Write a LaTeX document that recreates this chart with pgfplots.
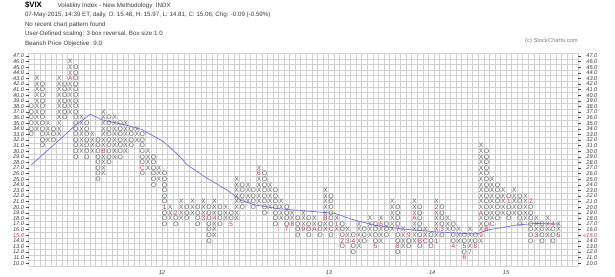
\documentclass[border=0pt]{standalone}
\usepackage{pgfplots}
\pgfplotsset{compat=1.18}
\usepackage{fontspec}
\setmainfont{Liberation Sans}
\definecolor{pfgray}{RGB}{95,95,95}
\definecolor{mred}{RGB}{215,40,90}
\definecolor{trend}{RGB}{115,110,235}
\definecolor{gridc}{RGB}{208,208,208}
\definecolor{txt}{RGB}{60,60,60}
\newcommand\pffont{\fontsize{6.5}{6.5}\selectfont}
\newcommand\lblfont{\fontsize{5.6}{5.6}\selectfont\itshape}
\pgfplotsset{mk/.style={only marks, color=mred, mark=text, text mark={#1}, text mark as node=true,
  text mark style={font=\pffont, text=mred, inner sep=0pt}}}
\begin{document}
\begin{tikzpicture}
\useasboundingbox (0pt,0pt) rectangle (615pt,-276pt);
\node[anchor=base west, inner sep=0pt, font=\fontsize{7.8}{7.8}\selectfont\bfseries] at (24.8pt,-7.6pt) {\$VIX};
\node[anchor=base west, inner sep=0pt, font=\fontsize{6.2}{6.2}\selectfont, text=txt] at (57.5pt,-7.2pt) {Volatility Index - New Methodology\ \ INDX};
\node[anchor=base west, inner sep=0pt, font=\fontsize{6.2}{6.2}\selectfont, text=txt] at (24.8pt,-16.9pt) {07-May-2015, 14:39 ET, daily, O: 15.48, H: 15.97, L: 14.81, C: 15.06, Chg: -0.09 (-0.59\%)};
\node[anchor=base west, inner sep=0pt, font=\fontsize{6.2}{6.2}\selectfont, text=txt] at (24.8pt,-26.3pt) {No recent chart pattern found};
\node[anchor=base west, inner sep=0pt, font=\fontsize{6.2}{6.2}\selectfont, text=txt] at (24.8pt,-35.8pt) {User-Defined scaling: 3 box reversal, Box size:1.0};
\node[anchor=base west, inner sep=0pt, font=\fontsize{6.2}{6.2}\selectfont, text=txt] at (24.8pt,-45.2pt) {Bearish Price Objective: 9.0};
\node[anchor=base west, inner sep=0pt, font=\fontsize{5.8}{5.8}\selectfont, text=gray] at (525pt,-42.2pt) {(c) StockCharts.com};

\begin{axis}[at={(28.7pt,-266pt)}, anchor=south west, scale only axis,
  width=549.5pt, height=212.8pt,
  xmin=-0.5, xmax=98.5, ymin=9.5, ymax=47.5,
  axis line style={draw=none},
  xtick={23.5,53.6,72.2,85.5}, xticklabels={12,13,14,15},
  xtick style={draw=none},
  xticklabel style={font=\lblfont, text=txt, inner sep=1pt},
  minor xtick={-0.5,0.5,...,98.5}, minor ytick={9.5,10.5,...,47.5},
  minor tick length=0pt,
  xminorgrids, yminorgrids,
  minor grid style={gridc, line width=0.5pt},
  ytick={10,11,...,47}, ytick pos=left, yticklabel pos=left,
  tick align=outside, major tick length=3pt,
  ytick style={draw=black!70, line width=0.6pt},
  yticklabel style={font=\lblfont, text=txt, inner sep=1.5pt},
  yticklabels={10.0,11.0,12.0,13.0,14.0,\textcolor{mred}{15.0},16.0,17.0,18.0,19.0,20.0,21.0,22.0,23.0,24.0,25.0,26.0,27.0,28.0,29.0,30.0,31.0,32.0,33.0,34.0,35.0,36.0,37.0,38.0,39.0,40.0,41.0,42.0,43.0,44.0,45.0,46.0,47.0},
  clip=false]
% trend line
\addplot[trend, line width=0.7pt, mark=none] coordinates {
(0,27.6) (4,31.1) (8,34.7) (10.6,36.6) (12.7,35.6) (16.9,34.7) (19.8,33.9) (23.8,31.7) (26.8,29.0) (28,27.6) (31.6,25.2) (35.2,23.1) (37.6,21.3) (40.3,20.4) (44.8,19.7) (51,19.2) (54.6,18.9) (58.2,17.7) (61.8,16.8) (66.9,16.1) (72.9,15.6) (80,15.2) (82.5,16) (87.3,16.8) (90.8,17.1) (95,17)};
% X boxes
\addplot[only marks, color=pfgray, mark=text, text mark={X}, text mark as node=true, text mark style={font=\pffont, text=pfgray, inner sep=0pt}] coordinates {
(1,34)(1,35)(1,36)(1,37)(1,38)(1,39)(1,40)(1,41)(1,42)(1,43)
(3,32)(3,33)(3,34)(3,35)
(5,33)(5,34)(5,35)(5,36)(5,37)(5,38)(5,39)(5,40)(5,41)(5,42)(5,43)
(7,37)(7,38)(7,39)(7,40)(7,41)(7,42)(7,44)(7,45)(7,46)
(9,30)(9,31)(9,32)(9,33)(9,34)(9,35)(9,36)
(11,30)(11,31)(11,32)(11,33)
(13,26)(13,27)(13,28)(13,29)(13,31)(13,32)(13,33)(13,34)(13,35)(13,36)(13,37)
(15,29)(15,30)(15,31)(15,32)(15,33)(15,34)(15,35)(15,36)
(17,30)(17,31)(17,32)(17,33)(17,34)(17,35)
(19,32)(19,33)(19,34)
(21,27)(21,28)(21,29)(21,30)
(23,25)(23,26)(23,27)
(25,18)(25,19)(25,20)
(27,18)(27,19)(27,20)(27,21)
(29,19)(29,20)(29,21)
(31,19)(31,20)(31,21)
(33,15)(33,16)(33,17)(33,19)(33,20)(33,21)
(35,18)(35,19)(35,20)
(37,18)(37,19)(37,20)(37,21)(37,22)(37,23)(37,24)(37,25)
(39,21)(39,22)(39,23)(39,24)
(41,21)(41,22)(41,23)(41,24)(41,25)(41,27)
(43,20)(43,21)(43,22)(43,23)(43,24)
(45,18)(45,19)(45,20)(45,21)
(47,18)(47,19)
(49,17)(49,18)(49,19)
(51,17)(51,18)
(53,16)(53,17)(53,19)(53,20)(53,21)(53,22)(53,23)
(55,16)(55,18)
(57,15)(57,16)
(59,13)(59,14)(59,15)(59,16)(59,17)
(61,15)(61,16)(61,17)(61,18)
(63,14)(63,15)(63,16)(63,18)
(65,16)(65,17)(65,18)(65,19)(65,20)(65,21)
(67,13)(67,14)(67,15)(67,16)
(69,14)(69,15)(69,16)(69,17)(69,19)(69,20)(69,21)
(71,15)(71,16)
(73,15)(73,16)(73,17)(73,18)(73,19)(73,21)
(75,16)(75,17)(75,18)
(77,14)(77,15)(77,16)
(79,13)(79,14)(79,15)(79,16)
(81,14)(81,16)(81,17)(81,18)(81,20)(81,21)(81,22)(81,23)(81,24)(81,25)(81,26)(81,27)(81,28)(81,29)(81,30)(81,31)
(83,18)(83,19)(83,20)(83,21)(83,22)(83,23)(83,24)(83,25)
(85,19)(85,20)(85,21)(85,22)(85,23)
(87,19)(87,20)(87,21)(87,22)(87,23)
(89,18)(89,19)(89,20)(89,21)(89,22)
(91,16)(91,17)(91,18)
(93,15)(93,16)(93,17)(93,18)
(95,16)(95,17)};
% O boxes
\addplot[only marks, color=pfgray, mark=text, text mark={O}, text mark as node=true, text mark style={font=\pffont, text=pfgray, inner sep=0pt}] coordinates {
(0,33)(0,34)(0,35)(0,36)(0,37)(0,38)
(2,31)(2,32)(2,33)(2,34)(2,35)(2,36)(2,37)(2,38)(2,39)(2,40)(2,41)(2,42)
(4,32)(4,33)(4,34)
(6,36)(6,37)(6,38)(6,39)(6,40)(6,41)(6,42)
(8,29)(8,30)(8,31)(8,32)(8,33)(8,34)(8,35)(8,36)(8,37)(8,38)(8,39)(8,40)(8,41)(8,42)(8,43)(8,44)(8,45)
(10,29)(10,30)(10,31)(10,32)(10,33)(10,34)(10,35)
(12,25)(12,26)(12,27)(12,28)(12,29)(12,30)(12,31)(12,32)
(14,28)(14,29)(14,30)(14,31)(14,32)(14,33)(14,34)(14,35)(14,36)
(16,29)(16,30)(16,31)(16,32)(16,33)(16,34)(16,35)
(18,31)(18,32)(18,33)(18,34)
(20,26)(20,28)(20,29)(20,30)(20,31)(20,32)(20,33)
(22,24)(22,25)(22,26)(22,27)(22,28)(22,29)
(24,17)(24,18)(24,19)(24,21)(24,22)(24,23)(24,24)(24,25)(24,26)
(26,17)(26,18)
(28,18)(28,19)(28,20)
(30,17)(30,18)(30,19)(30,20)
(32,14)(32,15)(32,16)(32,17)(32,18)(32,19)(32,20)
(34,17)(34,18)(34,19)(34,20)
(36,18)(36,19)
(38,20)(38,21)(38,22)(38,23)(38,24)
(40,20)(40,21)(40,22)(40,23)
(42,19)(42,20)(42,21)(42,22)(42,23)(42,24)(42,25)(42,26)
(44,17)(44,18)(44,19)(44,20)(44,21)(44,22)(44,23)
(46,17)(46,18)(46,19)(46,20)
(48,15)(48,16)(48,17)(48,18)
(50,15)(50,16)(50,17)(50,18)
(52,15)(52,16)(52,17)
(54,15)(54,17)(54,18)(54,19)(54,20)(54,21)(54,22)
(56,13)(56,15)(56,16)(56,17)
(58,12)(58,13)(58,15)
(60,14)(60,15)(60,16)
(62,14)(62,15)(62,16)(62,17)
(64,15)(64,16)(64,17)
(66,12)(66,14)(66,15)(66,17)(66,18)(66,19)(66,20)
(68,13)(68,14)
(70,13)(70,15)(70,16)(70,17)(70,18)(70,19)(70,20)
(72,13)(72,14)(72,15)
(74,15)(74,17)(74,18)(74,19)(74,20)
(76,14)(76,15)(76,16)(76,17)
(78,12)(78,14)(78,15)
(80,14)(80,15)
(82,17)(82,18)(82,19)(82,20)(82,21)(82,22)(82,23)(82,24)(82,25)(82,26)(82,27)(82,28)(82,29)(82,30)
(84,18)(84,19)(84,20)(84,21)(84,22)(84,23)(84,24)
(86,18)(86,19)(86,20)(86,22)
(88,17)(88,18)(88,19)(88,20)(88,21)(88,22)
(90,14)(90,15)(90,16)(90,17)(90,18)(90,19)(90,20)
(92,14)(92,15)(92,16)(92,17)
(94,14)(94,15)(94,16)};
% month markers
\addplot[mk=A] coordinates {(7,43)(51,16)(69,18)(81,19)};
\addplot[mk=B] coordinates {(13,30)(53,18)(70,14)(82,16)};
\addplot[mk=C] coordinates {(20,27)(54,16)(71,14)(83,17)};
\addplot[mk=1] coordinates {(24,20)(55,17)(73,14)(86,21)};
\addplot[mk=2] coordinates {(26,19)(56,14)(73,20)(90,21)};
\addplot[mk=3] coordinates {(31,18)(57,14)(74,16)(91,15)};
\addplot[mk=4] coordinates {(33,18)(58,14)(76,13)(94,17)};
\addplot[mk=5] coordinates {(36,17)(62,13)(78,13)(95,15)};
\addplot[mk=6] coordinates {(41,26)(63,17)(78,11)};
\addplot[mk=7] coordinates {(46,16)(66,16)(79,12)};
\addplot[mk=8] coordinates {(47,17)(66,13)(80,13)};
\addplot[mk=9] coordinates {(49,16)(68,15)(81,15)};
\end{axis}

\begin{axis}[at={(28.7pt,-266pt)}, anchor=south west, scale only axis,
  width=549.5pt, height=212.8pt,
  xmin=-0.5, xmax=98.5, ymin=9.5, ymax=47.5,
  hide x axis, axis y line*=right, y axis line style={draw=none},
  ytick={10,11,...,47}, tick align=outside, major tick length=3pt,
  ytick style={draw=black!70, line width=0.6pt},
  yticklabel style={font=\lblfont, text=txt, inner sep=1.5pt, xshift=3.5pt},
  yticklabels={10.0,11.0,12.0,13.0,14.0,{\color{mred}\llap{«}15.0},16.0,17.0,18.0,19.0,20.0,21.0,22.0,23.0,24.0,25.0,26.0,27.0,28.0,29.0,30.0,31.0,32.0,33.0,34.0,35.0,36.0,37.0,38.0,39.0,40.0,41.0,42.0,43.0,44.0,45.0,46.0,47.0}]
\addplot[draw=none, mark=none] coordinates {(0,20)(1,21)};
\end{axis}
\end{tikzpicture}
\end{document}
